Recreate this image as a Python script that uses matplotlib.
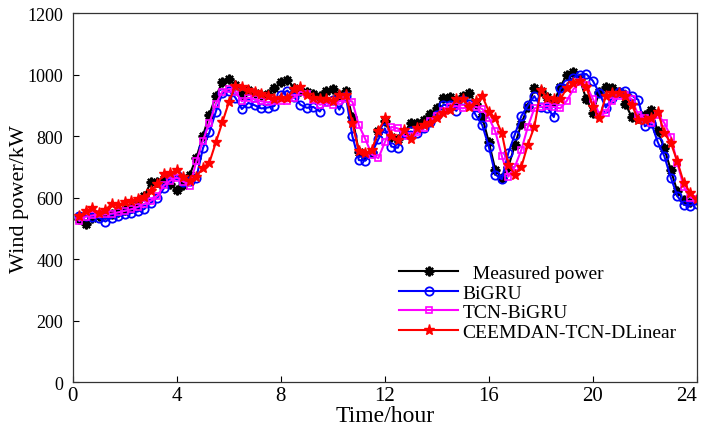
import numpy as np
import matplotlib
matplotlib.use("Agg")
import matplotlib.pyplot as plt

plt.rcParams['font.family'] = ['Liberation Serif', 'DejaVu Serif']

hours = np.arange(1, 97) * 0.25

measured = [530, 515, 535, 540, 545, 548, 553, 558, 565, 575, 605, 650,
            652, 660, 645, 625, 640, 675, 730, 800, 870, 930, 975, 985,
            965, 935, 950, 940, 935, 938, 955, 975, 983, 958, 948, 945,
            938, 930, 948, 952, 935, 948, 862, 748, 740, 748, 815, 850,
            798, 790, 812, 843, 843, 853, 872, 892, 925, 928, 913, 930,
            940, 905, 862, 780, 690, 665, 700, 770, 840, 895, 955, 948,
            928, 910, 960, 1000, 1008, 985, 920, 875, 945, 960, 955, 945,
            905, 862, 860, 868, 885, 815, 760, 690, 620, 592, 587, 592]

bigru = [540, 540, 538, 535, 522, 535, 540, 545, 550, 555, 563, 583,
         600, 630, 665, 672, 652, 653, 665, 760, 812, 880, 940, 948,
         925, 888, 908, 900, 890, 893, 898, 935, 948, 928, 902, 892,
         895, 880, 913, 918, 886, 930, 800, 722, 720, 745, 790, 825,
         766, 762, 810, 815, 810, 825, 845, 870, 902, 900, 882, 918,
         905, 868, 835, 765, 675, 660, 745, 805, 865, 900, 930, 895,
         893, 862, 955, 968, 990, 1000, 1002, 980, 940, 893, 925, 945,
         948, 932, 918, 832, 842, 780, 735, 665, 605, 577, 574, 580]

tcn_bigru = [525, 538, 542, 545, 545, 548, 552, 557, 562, 570, 580, 590,
             605, 640, 655, 665, 652, 638, 718, 785, 843, 905, 945, 953,
             945, 913, 925, 920, 913, 910, 913, 913, 913, 925, 945, 938,
             918, 902, 908, 902, 913, 920, 912, 835, 790, 740, 728, 780,
             830, 825, 800, 800, 812, 826, 848, 865, 882, 895, 898, 890,
             898, 895, 888, 860, 815, 735, 668, 700, 755, 830, 890, 895,
             898, 895, 890, 915, 952, 975, 965, 922, 870, 875, 915, 930,
             934, 920, 868, 858, 843, 870, 843, 798, 712, 635, 600, 594]

ceemdan = [540, 556, 566, 550, 560, 580, 577, 585, 590, 596, 603, 622,
           645, 678, 680, 690, 668, 655, 668, 697, 714, 780, 845, 910,
           963, 960, 950, 942, 937, 930, 920, 923, 923, 953, 960, 934,
           923, 920, 920, 915, 934, 934, 843, 750, 745, 755, 815, 858,
           800, 788, 820, 790, 825, 837, 843, 860, 875, 886, 920, 920,
           895, 913, 930, 880, 858, 810, 707, 675, 700, 772, 830, 950,
           923, 920, 920, 956, 973, 980, 960, 895, 858, 930, 940, 940,
           930, 902, 853, 853, 860, 880, 810, 778, 718, 648, 616, 594]

labels = ['  Measured power', 'BiGRU', 'TCN-BiGRU', 'CEEMDAN-TCN-DLinear']
xticks = [0, 4, 8, 12, 16, 20, 24]
yticks = [0, 200, 400, 600, 800, 1000, 1200]

fig = plt.figure(figsize=(7.01, 4.35), dpi=100)
ax = fig.add_axes([0.104, 0.1195, 0.890, 0.848])

ax.plot(hours, measured, color='black', lw=1.5, marker=(8, 2, 0),
        ms=7, mew=1.6, label=labels[0])
ax.plot(hours, bigru, color='blue', lw=1.5, marker='o', ms=6,
        mfc='none', mew=1.3, label=labels[1])
ax.plot(hours, tcn_bigru, color='magenta', lw=1.5, marker='s', ms=5,
        mfc='none', mew=1.2, label=labels[2])
ax.plot(hours, ceemdan, color='red', lw=1.5, marker='*', ms=8,
        mew=1.0, label=labels[3])

ax.set_xlim(0, 24)
ax.set_ylim(0, 1200)
ax.set_xticks(xticks)
ax.set_yticks(yticks)
ax.tick_params(direction='in', length=4, width=0.8, top=False, right=False)
ax.tick_params(axis='x', labelsize=15, pad=3)
ax.tick_params(axis='y', labelsize=13, pad=7)
xl = ax.get_xticklabels()
xl[-1].set_horizontalalignment('right')
for s in ax.spines.values():
    s.set_linewidth(0.9)
    s.set_color('#333333')

ax.set_xlabel('Time/hour', fontsize=17, labelpad=0)
ax.set_ylabel('Wind power/kW', fontsize=16, labelpad=-1)

ax.legend(loc='upper left', bbox_to_anchor=(0.511, 0.34), frameon=False,
          fontsize=14, handlelength=3.0, handletextpad=0.25,
          labelspacing=0.1, borderaxespad=0.0)

fig.savefig('out.png', dpi=100)
